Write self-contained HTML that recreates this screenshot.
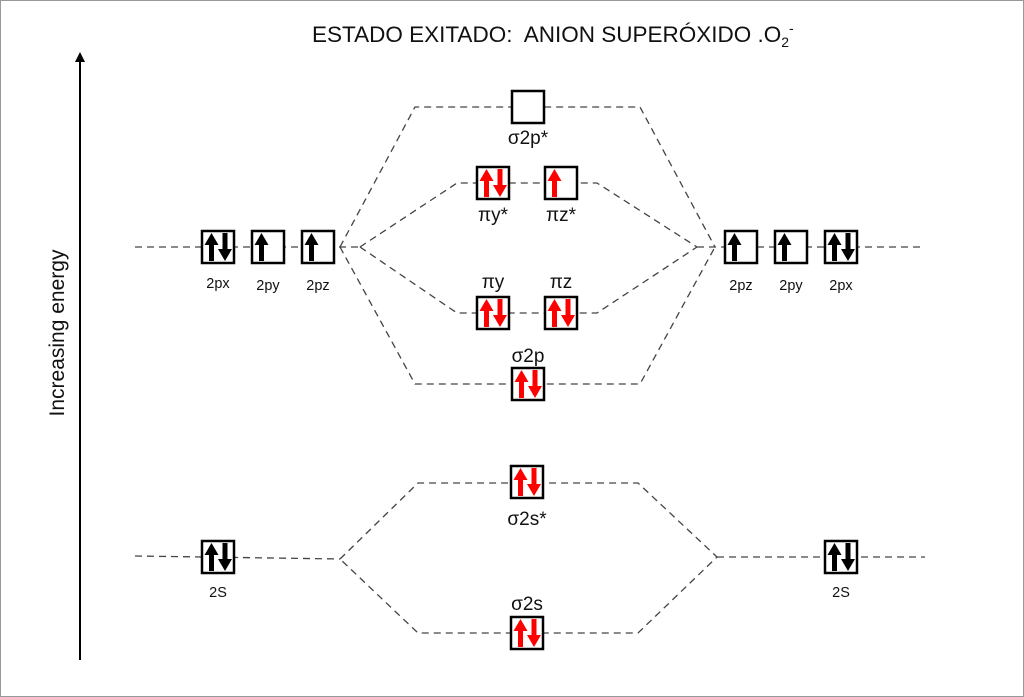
<!DOCTYPE html>
<html><head><meta charset="utf-8"><style>
html,body{margin:0;padding:0;background:#fff}
svg{display:block}
text{font-family:"Liberation Sans",sans-serif;fill:#111}
</style></head><body>
<svg width="1024" height="697" viewBox="0 0 1024 697" xmlns="http://www.w3.org/2000/svg">
<defs>
<g id="ub"><rect x="7" y="12" width="5" height="18" fill="#000"/><polygon points="2.5,14 9.5,2 16.5,14" fill="#000"/></g>
<g id="db"><rect x="20.5" y="2" width="5" height="17" fill="#000"/><polygon points="16,18 23,30 30,18" fill="#000"/></g>
<g id="ur"><rect x="7" y="12" width="5" height="18" fill="#f00"/><polygon points="2.5,14 9.5,2 16.5,14" fill="#f00"/></g>
<g id="dr"><rect x="20.5" y="2" width="5" height="17" fill="#f00"/><polygon points="16,18 23,30 30,18" fill="#f00"/></g>
<rect id="bx" x="0" y="0" width="32" height="32" fill="none" stroke="#000" stroke-width="2.5"/>
</defs>
<rect x="0.5" y="0.5" width="1023" height="696" fill="#fff" stroke="#999" stroke-width="1"/>
<text x="312" y="42" font-size="22.5" xml:space="preserve">ESTADO EXITADO:  ANION SUPERÓXIDO .O<tspan font-size="14" dy="5">2</tspan><tspan font-size="14" dy="-14">-</tspan></text>
<line x1="80" y1="660" x2="80" y2="60" stroke="#000" stroke-width="2"/>
<polygon points="75,62 80,52 85,62" fill="#000"/>
<text transform="translate(64,333) rotate(-90)" font-size="21" text-anchor="middle">Increasing energy</text>
<g stroke="#444" stroke-width="1.3" stroke-dasharray="7,5" fill="none">
<polyline points="135,247 360,247"/>
<polyline points="697,247 925,247"/>
<polyline points="340,247 415,107 640,107 715,247"/>
<polyline points="360,247 457,183 597,183 697,247"/>
<polyline points="360,247 457,313 597,313 697,247"/>
<polyline points="340,247 415,384 640,384 715,247"/>
<polyline points="135,556 340,559"/>
<polyline points="717,557 925,557"/>
<polyline points="340,559 418,483 638,483 717,557 638,633 418,633 340,559"/>
</g>
<g fill="#fff">
<rect x="202" y="231" width="32" height="32"/><rect x="252" y="231" width="32" height="32"/><rect x="302" y="231" width="32" height="32"/>
<rect x="725" y="231" width="32" height="32"/><rect x="775" y="231" width="32" height="32"/><rect x="825" y="231" width="32" height="32"/>
<rect x="512" y="91" width="32" height="32"/><rect x="477" y="167" width="32" height="32"/><rect x="545" y="167" width="32" height="32"/>
<rect x="477" y="297" width="32" height="32"/><rect x="545" y="297" width="32" height="32"/><rect x="512" y="368" width="32" height="32"/>
<rect x="511" y="466" width="32" height="32"/><rect x="511" y="617" width="32" height="32"/>
<rect x="202" y="541" width="32" height="32"/><rect x="825" y="541" width="32" height="32"/>
</g>
<g transform="translate(202,231)"><use href="#bx"/><use href="#ub"/><use href="#db"/></g>
<g transform="translate(252,231)"><use href="#bx"/><use href="#ub"/></g>
<g transform="translate(302,231)"><use href="#bx"/><use href="#ub"/></g>
<g transform="translate(725,231)"><use href="#bx"/><use href="#ub"/></g>
<g transform="translate(775,231)"><use href="#bx"/><use href="#ub"/></g>
<g transform="translate(825,231)"><use href="#bx"/><use href="#ub"/><use href="#db"/></g>
<g transform="translate(512,91)"><use href="#bx"/></g>
<g transform="translate(477,167)"><use href="#bx"/><use href="#ur"/><use href="#dr"/></g>
<g transform="translate(545,167)"><use href="#bx"/><use href="#ur"/></g>
<g transform="translate(477,297)"><use href="#bx"/><use href="#ur"/><use href="#dr"/></g>
<g transform="translate(545,297)"><use href="#bx"/><use href="#ur"/><use href="#dr"/></g>
<g transform="translate(512,368)"><use href="#bx"/><use href="#ur"/><use href="#dr"/></g>
<g transform="translate(511,466)"><use href="#bx"/><use href="#ur"/><use href="#dr"/></g>
<g transform="translate(511,617)"><use href="#bx"/><use href="#ur"/><use href="#dr"/></g>
<g transform="translate(202,541)"><use href="#bx"/><use href="#ub"/><use href="#db"/></g>
<g transform="translate(825,541)"><use href="#bx"/><use href="#ub"/><use href="#db"/></g>
<g font-size="14.5" text-anchor="middle">
<text x="218" y="288">2px</text><text x="268" y="290">2py</text><text x="318" y="290">2pz</text>
<text x="741" y="290">2pz</text><text x="791" y="290">2py</text><text x="841" y="290">2px</text>
<text x="218" y="597">2S</text><text x="841" y="597">2S</text>
</g>
<g font-size="19" text-anchor="middle">
<text x="528" y="144">σ2p*</text>
<text x="493" y="221">πy*</text><text x="561" y="221">πz*</text>
<text x="493" y="288">πy</text><text x="561" y="288">πz</text>
<text x="528" y="362">σ2p</text>
<text x="527" y="525">σ2s*</text>
<text x="527" y="610">σ2s</text>
</g>
</svg>
</body></html>
